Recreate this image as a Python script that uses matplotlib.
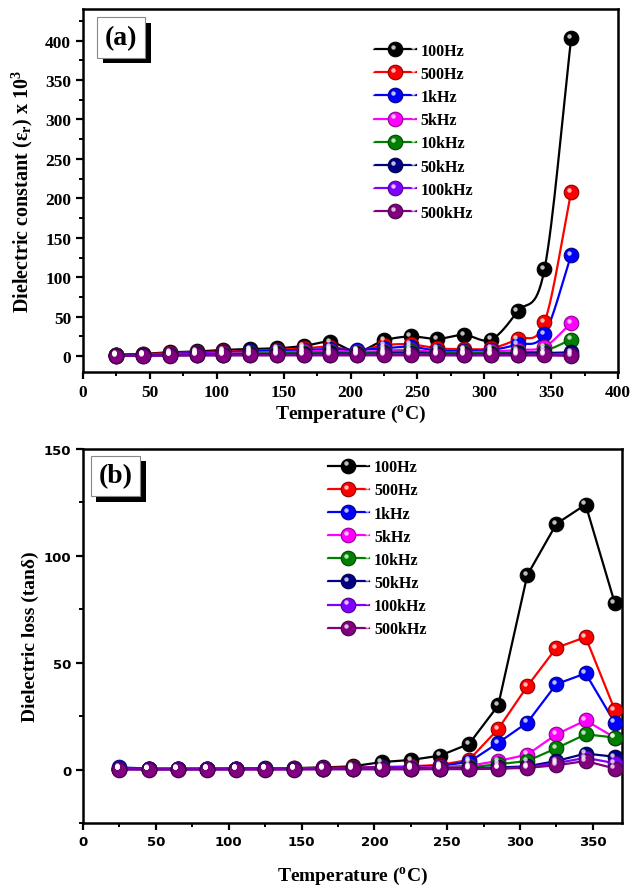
import numpy as np
import matplotlib
matplotlib.use("Agg")
import matplotlib.pyplot as plt
import matplotlib.transforms as mtransforms
import matplotlib.patheffects as pe
from matplotlib.lines import Line2D
from matplotlib.legend_handler import HandlerLine2D
from matplotlib.ticker import MultipleLocator

plt.rcParams['font.family'] = 'Liberation Serif'
plt.rcParams['font.weight'] = 'bold'
plt.rcParams['mathtext.fontset'] = 'custom'
plt.rcParams['mathtext.rm'] = 'Liberation Serif:bold'
plt.rcParams['mathtext.it'] = 'Liberation Serif:bold'
plt.rcParams['mathtext.bf'] = 'Liberation Serif:bold'

#----------------------------------------------------------#
# data
#----------------------------------------------------------#
temp = [25, 45, 65, 85, 105, 125, 145, 165, 185, 205, 225, 245, 265, 285, 305, 325, 345, 365]
labels = ['100Hz', '500Hz', '1kHz', '5kHz', '10kHz', '50kHz', '100kHz', '500kHz']
colors = ['#000000', '#FF0000', '#0000FF', '#FF00FF', '#008000', '#000080', '#8000FF', '#800080']

# (a) dielectric constant x 10^3
eps_100Hz  = [2, 3, 5, 6, 8, 9, 10, 13, 18, 6, 20, 25, 22, 27, 21, 57, 110, 403]
eps_500Hz  = [1.5, 2.5, 4, 5, 6, 7, 8, 10, 12, 7, 14, 15, 10, 9, 10, 22, 43, 208]
eps_1kHz   = [1, 2, 3, 4, 5, 6, 7, 8, 9, 8, 10, 12, 7, 7, 8, 15, 28, 128]
eps_5kHz   = [1, 1.5, 2.5, 3, 4, 4.5, 5, 6, 7, 5, 7, 8, 5, 5, 6, 8, 12, 42]
eps_10kHz  = [1, 1.5, 2, 2.5, 3, 3.5, 4, 4.5, 5, 4, 5, 6, 4, 4, 4, 5, 7, 21]
eps_50kHz  = [0.8, 1, 1.5, 2, 2, 2.5, 3, 3, 3.5, 3, 3.5, 4, 3, 3, 3, 3.5, 4, 5]
eps_100kHz = [0.6, 0.8, 1, 1.2, 1.5, 1.5, 2, 2, 2, 2, 2.5, 2.5, 2, 2, 2, 2, 2.5, 2]
eps_500kHz = [0.5, 0.5, 0.8, 1, 1, 1, 1, 1, 1, 1, 1, 1.2, 1, 1, 1, 1, 1, 0.5]

# (b) dielectric loss
tan_100Hz  = [0.5, 0.3, 0.4, 0.4, 0.5, 0.6, 0.7, 1.0, 1.5, 3.5, 4.5, 6.5, 12, 30, 91, 115, 124, 78]
tan_500Hz  = [0.4, 0.3, 0.3, 0.4, 0.4, 0.5, 0.6, 0.8, 1.0, 1.2, 1.5, 2.2, 4.5, 19, 39, 57, 62, 28]
tan_1kHz   = [1.0, 0.5, 0.4, 0.4, 0.4, 0.5, 0.5, 0.7, 0.8, 1.0, 1.2, 1.8, 3.5, 12.5, 22, 40, 45, 22]
tan_5kHz   = [0.4, 0.3, 0.3, 0.3, 0.4, 0.4, 0.5, 0.6, 0.7, 0.8, 1.0, 1.2, 1.8, 4, 7, 16.5, 23, 15]
tan_10kHz  = [0.3, 0.3, 0.3, 0.3, 0.3, 0.4, 0.4, 0.5, 0.6, 0.6, 0.7, 0.8, 1.0, 2.5, 4, 10, 16.5, 15]
tan_50kHz  = [0.3, 0.2, 0.2, 0.2, 0.3, 0.3, 0.3, 0.4, 0.4, 0.4, 0.5, 0.5, 0.6, 1.0, 1.5, 4, 7.5, 6]
tan_100kHz = [0.2, 0.2, 0.2, 0.2, 0.2, 0.2, 0.3, 0.3, 0.3, 0.3, 0.3, 0.4, 0.4, 0.6, 1.0, 3, 5.5, 3]
tan_500kHz = [0.0, 0.0, 0.0, 0.0, 0.0, 0.0, 0.0, 0.1, 0.1, 0.1, 0.1, 0.2, 0.2, 0.4, 0.8, 2, 4, 0.5]

eps_all = [eps_100Hz, eps_500Hz, eps_1kHz, eps_5kHz, eps_10kHz, eps_50kHz, eps_100kHz, eps_500kHz]
tan_all = [tan_100Hz, tan_500Hz, tan_1kHz, tan_5kHz, tan_10kHz, tan_50kHz, tan_100kHz, tan_500kHz]

MS = 10.5      # sphere size
HS = 3.2       # highlight size


def smooth(x, y, n=16):
    # catmull-rom curve through the points (line only, markers use raw data)
    x = np.asarray(x, float)
    y = np.asarray(y, float)
    xp = np.concatenate([[2*x[0]-x[1]], x, [2*x[-1]-x[-2]]])
    yp = np.concatenate([[2*y[0]-y[1]], y, [2*y[-1]-y[-2]]])
    t = np.linspace(0, 1, n, endpoint=False)
    xs, ys = [], []
    for i in range(1, len(xp)-2):
        for p, out in ((xp, xs), (yp, ys)):
            p0, p1, p2, p3 = p[i-1], p[i], p[i+1], p[i+2]
            out.append(0.5*(2*p1 + (-p0+p2)*t + (2*p0-5*p1+4*p2-p3)*t**2
                            + (-p0+3*p1-3*p2+p3)*t**3))
    xs.append([x[-1]])
    ys.append([y[-1]])
    return np.concatenate(xs), np.concatenate(ys)


def darker(c, f=0.55):
    r, g, b = matplotlib.colors.to_rgb(c)
    return (r*f, g*f, b*f)


class SphereHandler(HandlerLine2D):
    # legend entry: line + sphere marker + small white highlight
    def create_artists(self, legend, orig_handle, xdescent, ydescent,
                       width, height, fontsize, trans):
        arts = super().create_artists(legend, orig_handle, xdescent, ydescent,
                                      width, height, fontsize, trans)
        mk = arts[-1]
        off = mtransforms.ScaledTranslation(-1.6/72, 1.6/72, legend.figure.dpi_scale_trans)
        hl = Line2D(mk.get_xdata(), mk.get_ydata(), ls='none', marker='o', ms=HS,
                    mfc='white', mec='none', alpha=0.75)
        hl.set_transform(trans + off)
        return list(arts) + [hl]


fig = plt.figure(figsize=(6.3, 8.87), dpi=100)
ax1 = fig.add_axes([83/630, 1-373/887, 535/630, 363/887])
ax2 = fig.add_axes([83/630, 1-824/887, 539/630, 374/887])


def draw(ax, data, curved):
    hl = mtransforms.offset_copy(ax.transData, fig=fig, x=-1.6, y=1.6, units='points')
    handles = []
    for vals, c, lab in zip(data, colors, labels):
        if curved:
            sx, sy = smooth(temp, vals)
        else:
            sx, sy = temp, vals
        ax.plot(sx, sy, color=c, lw=1.6, zorder=2)
        ax.plot(temp, vals, ls='none', marker='o', ms=MS, mfc=c,
                mec=darker(c), mew=0.8, zorder=3)
        ax.plot(temp, vals, ls='none', marker='o', ms=HS, mfc='white',
                mec='none', alpha=0.75, transform=hl, zorder=4)
        handles.append(Line2D([], [], color=c, lw=1.6, marker='o', ms=MS, mfc=c,
                              mec=darker(c), mew=0.8))
    return handles


def panel_label(ax, txt, x, y):
    t = ax.text(x, y, txt, transform=ax.transAxes, fontsize=20, fontweight='bold',
                ha='center', va='center', zorder=6,
                bbox=dict(boxstyle='square,pad=0.28', fc='white', ec='#888888', lw=0.8))
    t.get_bbox_patch().set_path_effects(
        [pe.SimplePatchShadow(offset=(4, -4), shadow_rgbFace='black', alpha=1.0), pe.Normal()])


def style(ax, tickfont):
    for s in ax.spines.values():
        s.set_linewidth(1.8)
    ax.tick_params(which='major', direction='out', length=5, width=1.6)
    ax.tick_params(which='minor', direction='out', length=3, width=1.4)
    ax.tick_params(top=False, right=False)
    for lab in ax.get_xticklabels() + ax.get_yticklabels():
        lab.set_fontfamily(tickfont[0])
        lab.set_fontsize(tickfont[1])
        lab.set_fontweight('bold')


def add_legend(ax, handles, anchor):
    ax.legend(handles, labels, handler_map={Line2D: SphereHandler(numpoints=1)},
              loc='upper left', bbox_to_anchor=anchor, frameon=False,
              prop={'family': 'Liberation Serif', 'weight': 'bold', 'size': 11.5},
              handlelength=2.6, handletextpad=0.3, labelspacing=0.45, borderaxespad=0)


#----------------------------------------------------------#
# (a)
#----------------------------------------------------------#
h = draw(ax1, eps_all, True)
ax1.set_xlim(0, 400)
ax1.set_ylim(-20, 440)
ax1.xaxis.set_major_locator(MultipleLocator(50))
ax1.xaxis.set_minor_locator(MultipleLocator(25))
ax1.yaxis.set_minor_locator(MultipleLocator(25))
ax1.set_yticks(np.arange(0, 401, 50))
style(ax1, ('Liberation Serif', 12.5))
ax1.set_xlabel(r'Temperature ($^\mathregular{o}$C)', fontsize=14, fontweight='bold', labelpad=2)
ax1.set_ylabel(r'Dielectric constant (ε$_\mathregular{r}$) x 10$^\mathregular{3}$',
               fontsize=14.5, fontweight='bold', labelpad=7)
add_legend(ax1, h, (0.532, 0.925))
panel_label(ax1, '(a)', 0.071, 0.922)

#----------------------------------------------------------#
# (b)
#----------------------------------------------------------#
h = draw(ax2, tan_all, False)
ax2.set_xlim(0, 370)
ax2.set_ylim(-25, 150)
ax2.set_xticks(np.arange(0, 351, 50))
ax2.xaxis.set_minor_locator(MultipleLocator(25))
ax2.set_yticks([0, 50, 100, 150])
ax2.yaxis.set_minor_locator(MultipleLocator(25))
style(ax2, ('DejaVu Sans', 9.5))
ax2.set_xlabel(r'Temperature ($^\mathregular{o}$C)', fontsize=14, fontweight='bold', labelpad=12)
ax2.set_ylabel('Dielectric loss (tanδ)', fontsize=14, fontweight='bold', labelpad=3)
add_legend(ax2, h, (0.442, 0.99))
panel_label(ax2, '(b)', 0.06, 0.928)

fig.savefig('out.png', dpi=100)
